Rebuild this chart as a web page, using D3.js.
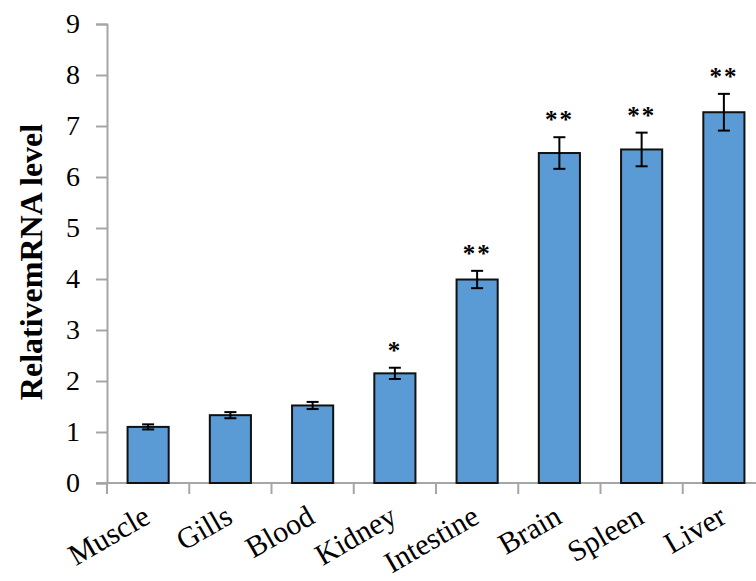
<!DOCTYPE html>
<html>
<head>
<meta charset="utf-8">
<script src="https://cdn.jsdelivr.net/npm/d3@7"></script>
<style>
  body { margin: 0; background: #fff; }
  svg { display: block; }
</style>
</head>
<body>
<svg id="chart" width="756" height="581"></svg>
<script>
const tissues = ["Muscle", "Gills", "Blood", "Kidney", "Intestine", "Brain", "Spleen", "Liver"];
const means = [1.10, 1.33, 1.52, 2.15, 3.99, 6.47, 6.54, 7.27];
const errors = [0.05, 0.06, 0.07, 0.11, 0.17, 0.31, 0.33, 0.36];
const marks = ["", "", "", "*", "**", "**", "**", "**"];
const yTicks = [0, 1, 2, 3, 4, 5, 6, 7, 8, 9];

const FONT = "Liberation Serif";
const MARGIN = { top: 24, left: 107, bottom: 98 };
const height = 581;
const bandW = 82.25;
const boundsHeight = height - MARGIN.top - MARGIN.bottom;

const svg = d3.select("#chart");
const g = svg.append("g").attr("transform", `translate(${MARGIN.left},${MARGIN.top})`);

const xScale = d3.scaleBand().domain(tissues).range([0, bandW * tissues.length]).padding(0.5).paddingOuter(0.25);
const yScale = d3.scaleLinear().domain([0, 9]).range([boundsHeight, 0]);

// y axis
const yAxis = g.append("g").call(d3.axisLeft(yScale).tickValues(yTicks).tickSize(11).tickPadding(16));
yAxis.attr("font-family", null);
yAxis.select(".domain").attr("stroke", "#a6a6a6").attr("stroke-width", 2);
yAxis.selectAll(".tick line").attr("stroke", "#a6a6a6").attr("stroke-width", 2);
yAxis.selectAll(".tick text")
  .style("font-family", FONT)
  .style("font-size", "28px")
  .attr("fill", "#000");

// x axis with ticks at band borders
const xAxisG = g.append("g").attr("transform", `translate(0,${boundsHeight})`);
xAxisG.append("line")
  .attr("x1", -11).attr("x2", bandW * tissues.length)
  .attr("stroke", "#a6a6a6").attr("stroke-width", 2);
xAxisG.selectAll(".xtick")
  .data(d3.range(tissues.length + 1))
  .join("line")
  .attr("x1", (i) => i * bandW).attr("x2", (i) => i * bandW)
  .attr("y1", 0).attr("y2", 11)
  .attr("stroke", "#a6a6a6").attr("stroke-width", 2);

xAxisG.selectAll(".xlabel")
  .data(tissues)
  .join("text")
  .attr("text-anchor", "end")
  .attr("transform", (d) => `translate(${xScale(d) + xScale.bandwidth() / 2 + 4},${39}) rotate(-30)`)
  .style("font-family", FONT)
  .style("font-size", "30px")
  .attr("fill", "#000")
  .text((d) => d);

// bars
const data = tissues.map((t, i) => ({ t, v: means[i], e: errors[i], m: marks[i] }));

g.selectAll(".bar")
  .data(data)
  .join("rect")
  .attr("x", (d) => xScale(d.t))
  .attr("y", (d) => yScale(d.v))
  .attr("width", xScale.bandwidth())
  .attr("height", (d) => boundsHeight - yScale(d.v))
  .attr("fill", "#5b9bd5")
  .attr("stroke", "#111")
  .attr("stroke-width", 2);

// error bars
const cx = (d) => xScale(d.t) + xScale.bandwidth() / 2;
const err = g.selectAll(".err").data(data).join("g").attr("stroke", "#000").attr("stroke-width", 2);
err.append("line").attr("x1", cx).attr("x2", cx)
  .attr("y1", (d) => yScale(d.v + d.e)).attr("y2", (d) => yScale(d.v - d.e));
err.append("line").attr("x1", (d) => cx(d) - 6).attr("x2", (d) => cx(d) + 6)
  .attr("y1", (d) => yScale(d.v + d.e)).attr("y2", (d) => yScale(d.v + d.e));
err.append("line").attr("x1", (d) => cx(d) - 6).attr("x2", (d) => cx(d) + 6)
  .attr("y1", (d) => yScale(d.v - d.e)).attr("y2", (d) => yScale(d.v - d.e));

// significance stars
g.selectAll(".star")
  .data(data.filter((d) => d.m))
  .join("text")
  .attr("x", cx)
  .attr("y", (d) => yScale(d.v + d.e) - 9)
  .attr("text-anchor", "middle")
  .attr("letter-spacing", 2)
  .style("font-family", FONT)
  .style("font-weight", "bold")
  .style("font-size", "25px")
  .attr("fill", "#000")
  .text((d) => d.m);

// y title
svg.append("text")
  .attr("transform", `translate(42,262) rotate(-90)`)
  .attr("text-anchor", "middle")
  .style("font-family", FONT)
  .style("font-weight", "bold")
  .style("font-size", "32px")
  .attr("fill", "#000")
  .text("RelativemRNA level");
</script>
</body>
</html>
